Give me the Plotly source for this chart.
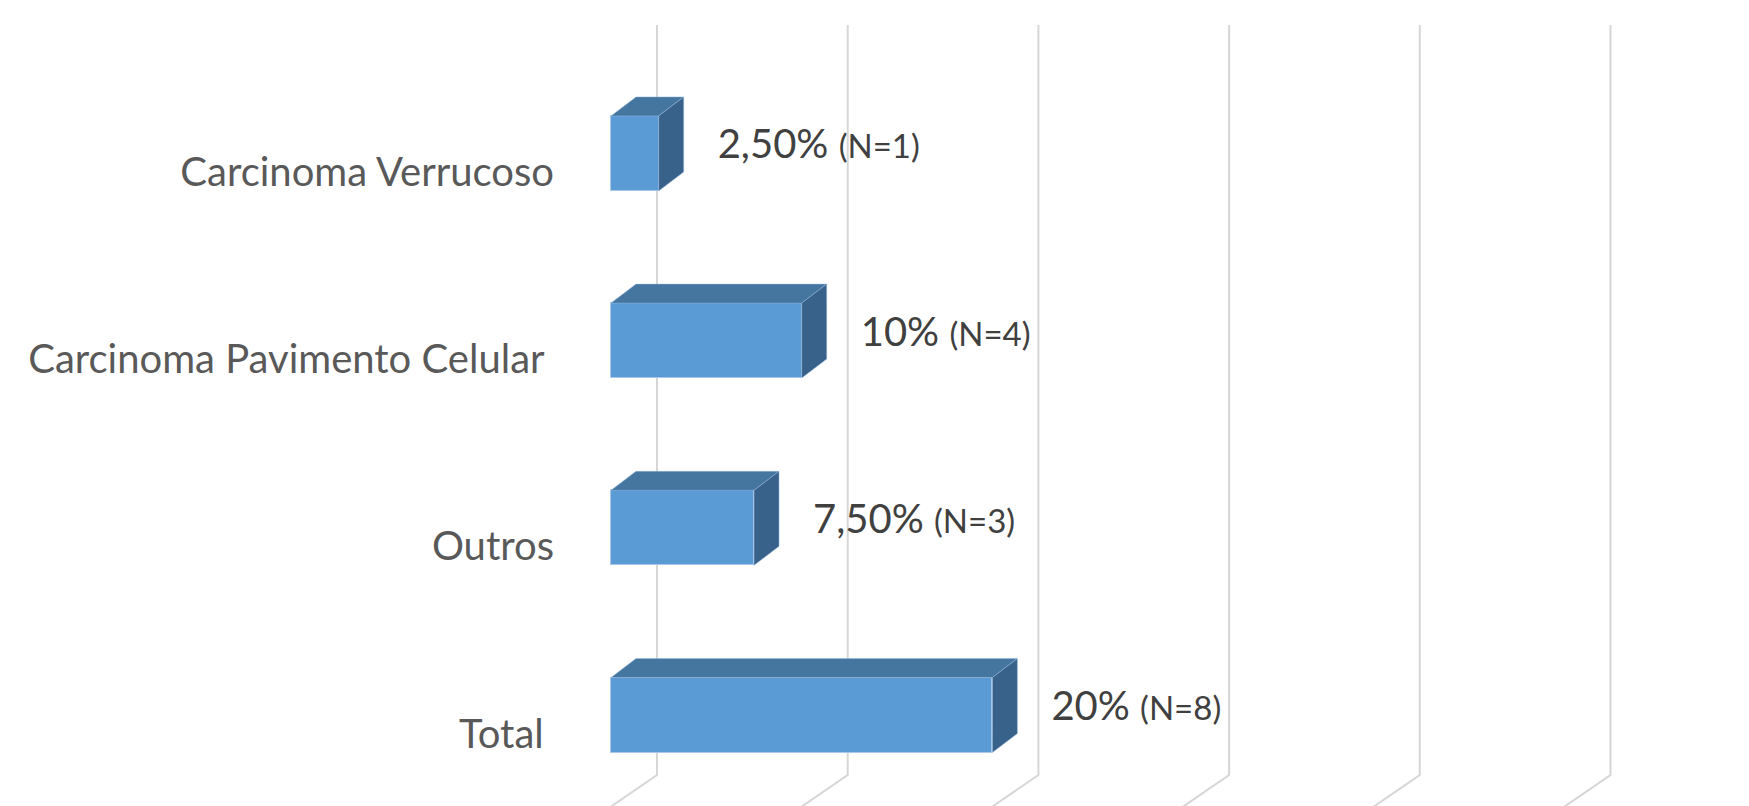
import plotly.graph_objects as go

# ---- data ----
categories = ["Carcinoma Verrucoso", "Carcinoma Pavimento Celular\u00a0", "Outros", "Total\u00a0"]
values = [2.5, 10, 7.5, 20]          # percent
counts = [1, 4, 3, 8]                # N
value_labels = ["2,50%", "10%", "7,50%", "20%"]
grid_values = [0, 10, 20, 30, 40, 50]

# ---- geometry / style constants ----
W, H = 1749, 806
ML = 560
PX_PER_PCT = 19.07
PX_PER_CAT = 187.2
X0_PX = 611          # pixel of x = 0 (front plane)
Y0_PX = 715          # pixel of lowest category centre
BAR_W = 75 / PX_PER_CAT
DEPTH_X = 25 / PX_PER_PCT
DEPTH_Y = 19 / PX_PER_CAT
WALL_X = 46 / PX_PER_PCT
WALL_Y = 31.6 / PX_PER_CAT
LABEL_DY = 18.5 / PX_PER_CAT
VAL_DY = 5 / PX_PER_CAT
VAL_DX = 59 / PX_PER_PCT

xmin = -(X0_PX - ML) / PX_PER_PCT
xmax = xmin + (W - ML) / PX_PER_PCT
ymin = -(H - Y0_PX) / PX_PER_CAT
ymax = ymin + H / PX_PER_CAT

FRONT = "#5B9BD5"
TOP = "#45769F"
SIDE = "#39628A"
EDGE = "#A9C7E8"

n = len(categories)
y_pos = [n - 1 - i for i in range(n)]

fig = go.Figure()

# front faces
fig.add_trace(go.Bar(
    x=values, y=y_pos, orientation="h", width=BAR_W,
    marker=dict(color=FRONT, line=dict(color=EDGE, width=1)),
    hoverinfo="skip", showlegend=False,
))

# top and side faces
for v, yc in zip(values, y_pos):
    yt = yc + BAR_W / 2
    yb = yc - BAR_W / 2
    fig.add_trace(go.Scatter(
        x=[0, v, v + DEPTH_X, DEPTH_X, 0],
        y=[yt, yt, yt + DEPTH_Y, yt + DEPTH_Y, yt],
        mode="lines", fill="toself", fillcolor=TOP,
        line=dict(color="rgba(150,185,225,0.6)", width=0.8),
        hoverinfo="skip", showlegend=False,
    ))
    fig.add_trace(go.Scatter(
        x=[v, v + DEPTH_X, v + DEPTH_X, v, v],
        y=[yb, yb + DEPTH_Y, yt + DEPTH_Y, yt, yb],
        mode="lines", fill="toself", fillcolor=SIDE,
        line=dict(color="rgba(150,185,225,0.6)", width=0.8),
        hoverinfo="skip", showlegend=False,
    ))

# value labels
texts = [f"{lbl} <span style='font-size:33px'>(N={c})</span>" for lbl, c in zip(value_labels, counts)]
fig.add_trace(go.Scatter(
    x=[v + VAL_DX for v in values],
    y=[yc + VAL_DY for yc in y_pos],
    mode="text", text=texts, textposition="middle right",
    textfont=dict(family="Lato", size=40, color="#404040"),
    hoverinfo="skip", showlegend=False,
))

# back wall + floor gridlines
wall_bottom = ymin + (H - 775) / PX_PER_CAT
wall_top = ymax - 25 / PX_PER_CAT
shapes = []
for g in grid_values:
    shapes.append(dict(
        type="path", xref="x", yref="y", layer="below",
        path=f"M {g},{wall_bottom - WALL_Y} L {g + WALL_X},{wall_bottom} L {g + WALL_X},{wall_top}",
        line=dict(color="#D6D6D6", width=2),
    ))

fig.update_layout(
    width=W, height=H,
    margin=dict(l=ML, r=0, t=0, b=0),
    paper_bgcolor="white", plot_bgcolor="white",
    shapes=shapes,
    bargap=0,
    xaxis=dict(range=[xmin, xmax], showgrid=False, zeroline=False,
               showticklabels=False, showline=False, fixedrange=True),
    yaxis=dict(range=[ymin, ymax], showgrid=False, zeroline=False, showline=False,
               tickmode="array", tickvals=[yc - LABEL_DY for yc in y_pos],
               ticktext=categories, ticks="", ticklabelstandoff=5,
               tickfont=dict(family="Lato", size=40, color="#595959")),
    font=dict(family="Lato"),
)

fig.write_html("out.html")
